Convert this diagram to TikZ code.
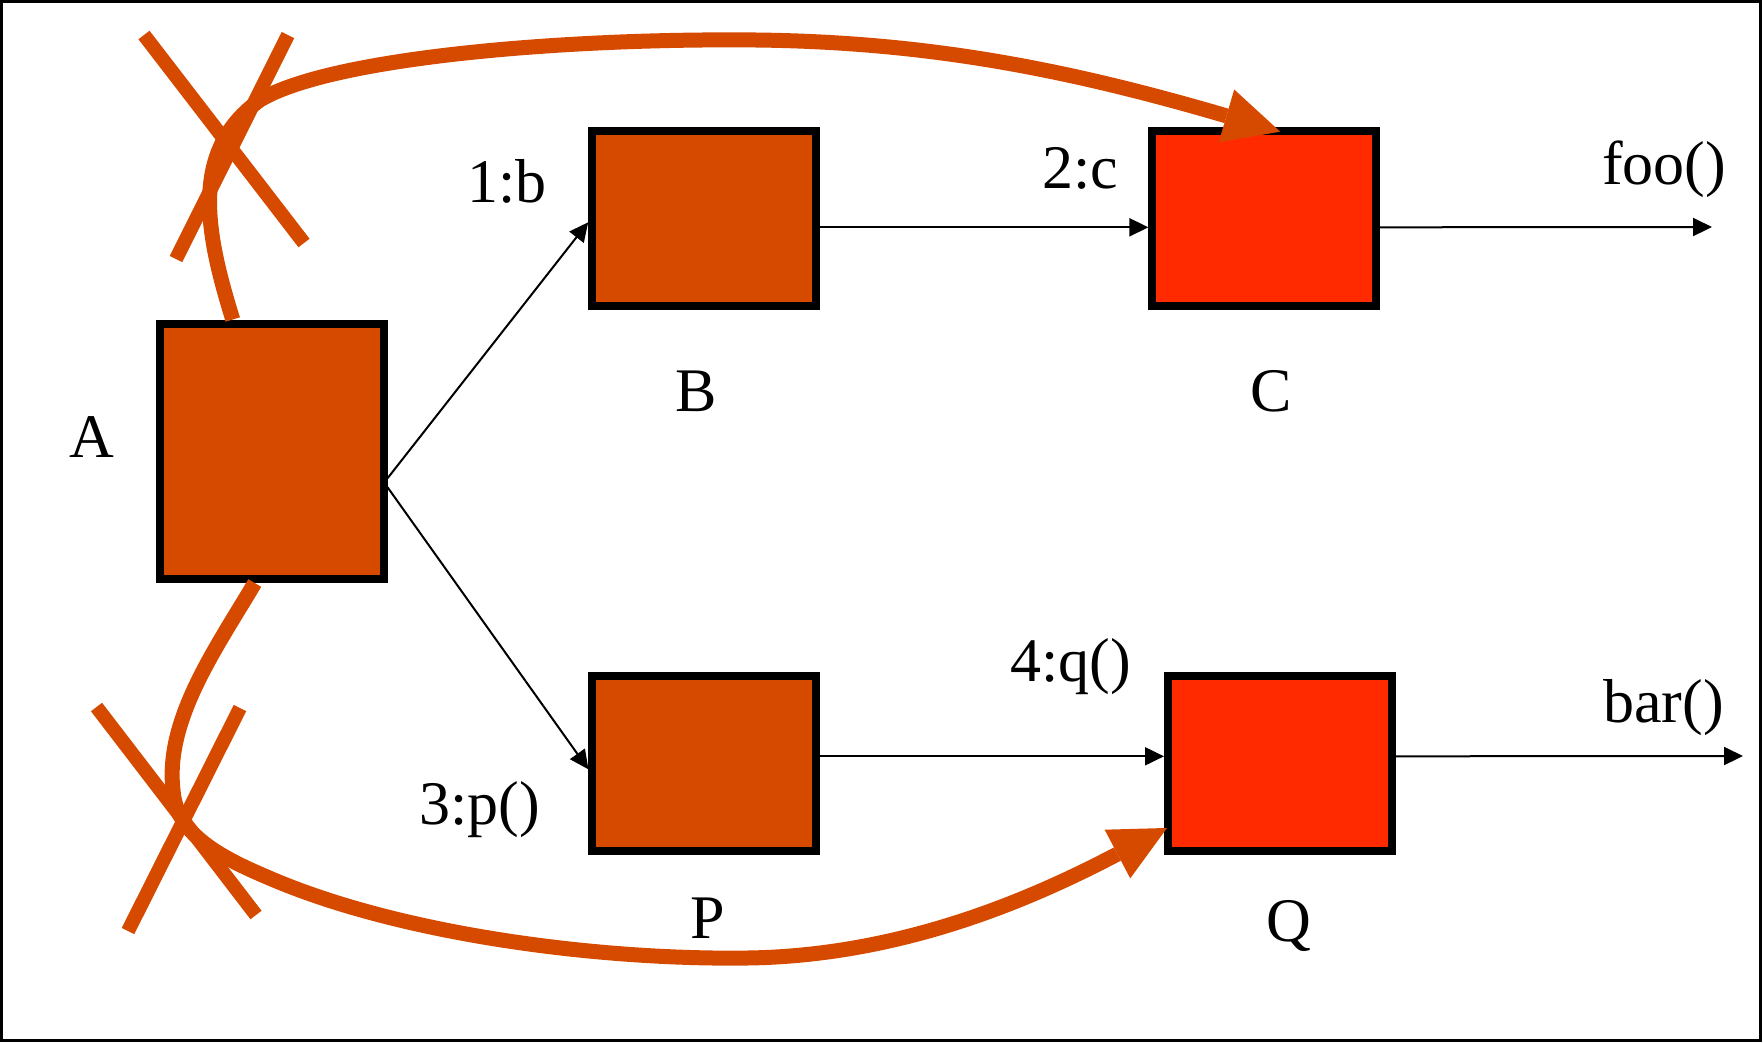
\documentclass[tikz,border=0pt]{standalone}
\usepackage{fontspec}
\setmainfont{Liberation Serif}
\usetikzlibrary{arrows.meta,calc}
\definecolor{boxorange}{RGB}{214,74,0}
\definecolor{boxred}{RGB}{255,42,0}
\begin{document}
\begin{tikzpicture}[x=1pt,y=-1pt,
  tbox/.style={draw=black,line width=8pt,minimum width=223.6pt,minimum height=175.3pt,inner sep=0pt},
  abox/.style={tbox,minimum height=255.5pt},
  lbl/.style={anchor=base west,inner sep=0pt,font=\fontsize{62}{70}\selectfont},
  flow/.style={line width=2pt,-{Triangle[length=19pt,width=18pt]}},
  heavy/.style={draw=boxorange,line width=14pt,line cap=butt},
  heavyarrow/.style={heavy,line width=15pt,-{Triangle[length=56pt,width=55pt,line width=0pt]}},
]
\useasboundingbox (0,0) rectangle (1763,1042);
\draw[line width=3pt] (1.5,1.5) rectangle (1760,1040.5);

% boxes
\node[abox,fill=boxorange] (A) at (271.75,451.25) {};
\node[tbox,fill=boxorange] (B) at (704,218.3) {};
\node[tbox,fill=boxred] (C) at (1264.2,218.3) {};
\node[tbox,fill=boxorange] (P) at (704.2,763.3) {};
\node[tbox,fill=boxred] (Q) at (1279.8,763.3) {};

% labels
\node[lbl] (lA) at (69,457.6) {A};
\node[lbl] (lB) at (675,411.5) {B};
\node[lbl] (lC) at (1250,411) {C};
\node[lbl] (lP) at (690,938) {P};
\node[lbl] (lQ) at (1266,941) {Q};
\node[lbl] (l1) at (467,202) {1:b};
\node[lbl] (l2) at (1042,188) {2:c};
\node[lbl] (lfoo) at (1602,184) {foo()};
\node[lbl] (l4) at (1010,681) {4:q()};
\node[lbl] (lbar) at (1603,722) {bar()};
\node[lbl] (l3) at (419,824) {3:p()};

% thin connectors
\coordinate (cout) at (1712,227);
\coordinate (qout) at (1743,756);
\draw[flow] ($(A.east)+(0,27)$) -- ($(B.west)+(0,4)$);
\draw[flow] ($(A.east)+(0,36)$) -- ($(P.west)+(0,6)$);
\draw[flow] ($(B.east)+(0,9)$) -- ($(C.west)+(0,9)$);
\draw[flow] ($(C.east)+(0,9)$) -- (cout);
\draw[flow] ($(P.east)+(0,-7)$) -- ($(Q.west)+(0,-7)$);
\draw[flow] ($(Q.east)+(0,-7)$) -- (qout);

% crosses
\draw[heavy] (144,35) -- (304,243);
\draw[heavy] (288,35) -- (176,259);
\draw[heavy] (96.5,707) -- (256,915);
\draw[heavy] (240,708) -- (128,931);

% heavy curves
\draw[heavyarrow] ($(A.north)+(-39,0)$) .. controls (205,230) and (190,150) .. (260,100)
  .. controls (330,58) and (560,38) .. (756,40)
  .. controls (930,42) and (1070,70) .. ($(C.north)+(16,5)$);
\draw[heavyarrow] ($(A.south)+(-17,0)$) .. controls (215,650) and (165,720) .. (173,790)
  .. controls (176,830) and (210,853) .. (267,877)
  .. controls (400,935) and (600,960) .. (747,958)
  .. controls (900,956) and (1030,900) .. ($(Q.south west)+(3,-27)$);
\end{tikzpicture}
\end{document}
